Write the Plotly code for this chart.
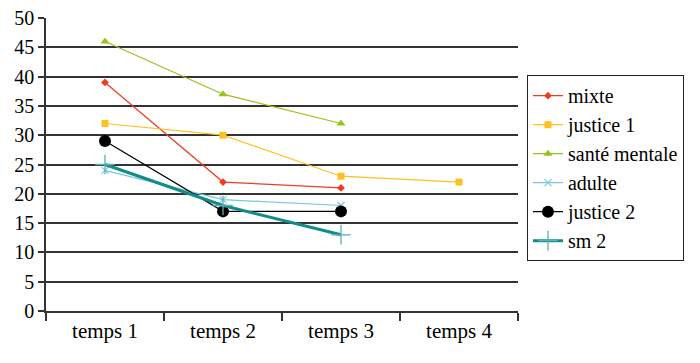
import plotly.graph_objects as go

categories = ["temps 1", "temps 2", "temps 3", "temps 4"]
mixte = [39, 22, 21]
justice1 = [32, 30, 23, 22]
sante_mentale = [46, 37, 32]
adulte = [24, 19, 18]
justice2 = [29, 17, 17]
sm2 = [25, 18, 13]

font = "Liberation Serif"

fig = go.Figure()

def add(name, vals, color, width, symbol, size, mline=None, mlw=0):
    fig.add_trace(go.Scatter(
        x=categories[:len(vals)], y=vals, name=name, mode="lines+markers",
        line=dict(color=color, width=width),
        marker=dict(symbol=symbol, size=size, color=color,
                    line=dict(color=mline or color, width=mlw)),
    ))

add("mixte", mixte, "#F03C1E", 1.2, "diamond", 6)
add("justice 1", justice1, "#FFC020", 1.2, "square", 7)
add("santé mentale", sante_mentale, "#96C31E", 1.2, "triangle-up", 8)
add("adulte", adulte, "#78C8DC", 1.2, "x-thin", 7, "#78C8DC", 1.2)
add("justice 2", justice2, "#000000", 1.2, "circle", 12)
add("sm 2", sm2, "#108C8C", 3, "cross-thin", 14, "#5AAFB4", 1.3)

fig.update_layout(
    template="none",
    width=700, height=363,
    margin=dict(l=46, r=182, t=18, b=52, autoexpand=False),
    plot_bgcolor="white", paper_bgcolor="white",
    font=dict(family=font, size=20, color="black"),
    showlegend=True,
    legend=dict(x=1.019, y=0.805, xanchor="left", yanchor="top",
                bordercolor="#222", borderwidth=1,
                font=dict(family=font, size=20, color="black"),
                tracegroupgap=0),
)
fig.update_xaxes(
    type="category", range=[-0.5, 3.5], categoryorder="array", categoryarray=categories,
    tickson="boundaries", ticks="outside", ticklen=8, tickcolor="#333", tickwidth=1.5,
    showline=True, linecolor="#333", linewidth=1.5, showgrid=False, automargin=False,
    tickfont=dict(family=font, size=21, color="black"),
)
fig.update_yaxes(
    range=[0, 50], dtick=5, tick0=0, automargin=False,
    showgrid=True, gridcolor="#333", gridwidth=1.5,
    ticks="outside", ticklen=6, tickcolor="#333", tickwidth=1.5,
    showline=True, linecolor="#333", linewidth=1.5, zeroline=False,
    tickfont=dict(family=font, size=20, color="black"),
)

fig.write_html("out.html", config={"displayModeBar": False},
               post_script="document.body.style.margin='0';")
